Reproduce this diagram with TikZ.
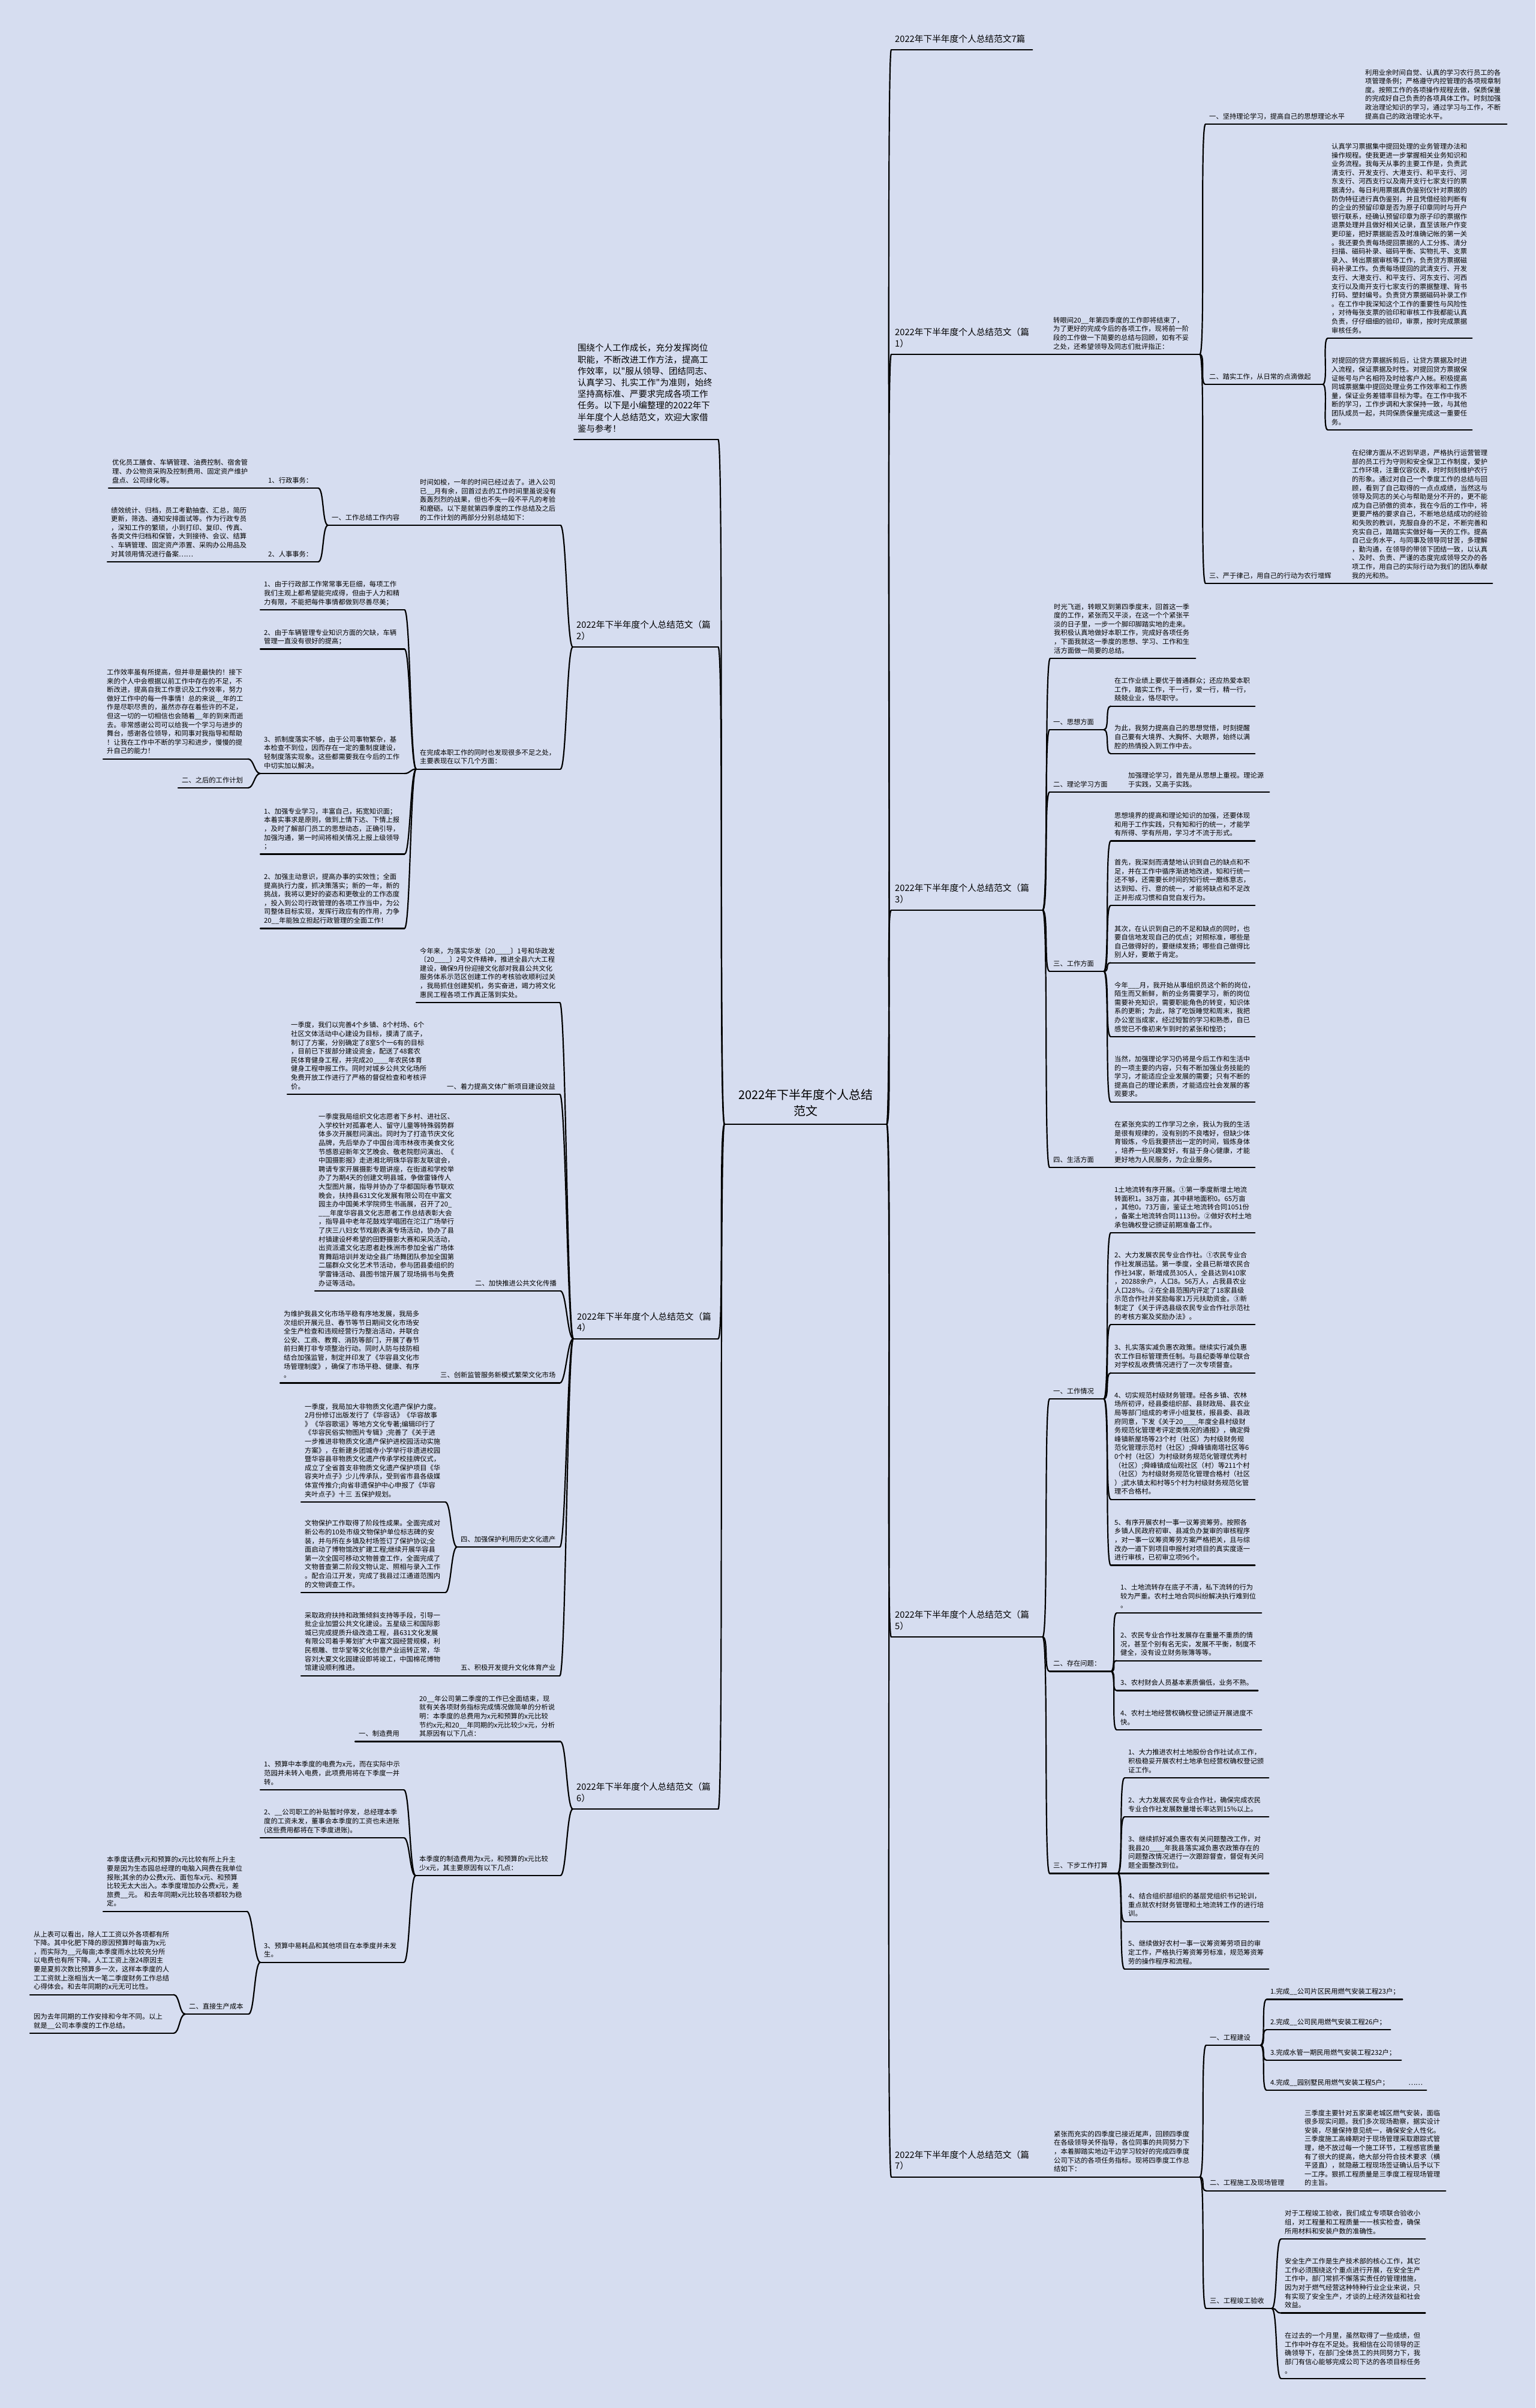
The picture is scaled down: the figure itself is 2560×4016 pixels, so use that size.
\documentclass[tikz,border=0pt]{standalone}
\usepackage{fontspec}
\newfontfamily\cjk{Noto Sans CJK SC}
\definecolor{bgc}{HTML}{D6DDF0}
\tikzset{
  bt/.style={anchor=south west, inner xsep=6pt, inner ysep=4.3pt, align=left,
    font=\cjk\fontsize{11.3}{14.6}\selectfont, execute at end node=\strut},
  lt/.style={bt, font=\cjk\fontsize{14.7}{18.5}\selectfont, inner ysep=7pt},
  mt/.style={bt, font=\cjk\fontsize{14.5}{19.2}\selectfont, inner ysep=6.7pt},
  rt/.style={bt, align=center, font=\cjk\fontsize{20}{26.6}\selectfont, inner ysep=6.4pt},
  ul/.style={line width=2.2pt, line cap=round},
  cn/.style={line width=2.2pt, line cap=round}
}
\begin{document}
\begin{tikzpicture}[x=1pt,y=-1pt]
\fill[bgc] (0,0) rectangle (2560,4016);
\useasboundingbox (0,0) rectangle (2560,4016);

% ---------- root ----------
\node[rt, text width=258pt] (root) at (1208,1875) {2022年下半年度个人总结\\范文};

% ---------- right side ----------
\node[lt, text width=223pt] (title) at (1486,83) {2022年下半年度个人总结范文7篇};

% 篇1
\node[lt, text width=240pt] (p1) at (1486,591) {2022年下半年度个人总结范文（篇\\1）};
\node[bt, text width=238pt] (i1) at (1750,591) {转眼间20\_\_年第四季度的工作即将结束了，\\为了更好的完成今后的各项工作，现将前一阶\\段的工作做一下简要的总结与回顾，如有不妥\\之处，还希望领导及同志们批评指正：};
\node[bt, text width=228pt] (s11) at (2010,207) {一、坚持理论学习，提高自己的思想理论水平};
\node[bt, text width=230pt] (t11) at (2270,207) {利用业余时间自觉、认真的学习农行员工的各\\项管理条例；严格遵守内控管理的各项规章制\\度。按照工作的各项操作规程去做，保质保量\\的完成好自己负责的各项具体工作。时刻加强\\政治理论知识的学习，通过学习与工作，不断\\提高自己的政治理论水平。};
\node[bt, text width=183pt] (s12) at (2010,641) {二、踏实工作，从日常的点滴做起};
\node[bt, text width=228pt] (t12a) at (2214,564) {认真学习票据集中提回处理的业务管理办法和\\操作规程。使我更进一步掌握相关业务知识和\\业务流程。我每天从事的主要工作是，负责武\\清支行、开发支行、大港支行、和平支行、河\\东支行、河西支行以及南开支行七家支行的票\\据清分。每日利用票据真伪鉴别仪针对票据的\\防伪特征进行真伪鉴别，并且凭借经验判断有\\的企业的预留印章是否为原子印章同时与开户\\银行联系，经确认预留印章为原子印的票据作\\退票处理并且做好相关记录，直至该账户作变\\更印鉴，把好票据能否及时准确记帐的第一关\\。我还要负责每场提回票据的人工分拣、清分\\扫描、磁码补录、磁码平衡、实物扎平、支票\\录入、转出票据审核等工作，负责贷方票据磁\\码补录工作。负责每场提回的武清支行、开发\\支行、大港支行、和平支行、河东支行、河西\\支行以及南开支行七家支行的票据整理、背书\\打码、塑封编号。负责贷方票据磁码补录工作\\。在工作中我深知这个工作的重要性与风险性\\，对待每张支票的验印和审核工作我都能认真\\负责，仔仔细细的验印，审票，按时完成票据\\审核任务。};
\node[bt, text width=228pt] (t12b) at (2214,717) {对提回的贷方票据拆剪后，让贷方票据及时进\\入流程，保证票据及时性。对提回贷方票据保\\证帐号与户名相符及时给客户入帐。积极提高\\同城票据集中提回处理业务工作效率和工作质\\量，保证业务差错率目标为零。在工作中我不\\断的学习，工作步调和大家保持一致，与其他\\团队成员一起，共同保质保量完成这一重要任\\务。};
\node[bt, text width=218pt] (s13) at (2010,973) {三、严于律己，用自己的行动为农行增辉};
\node[bt, text width=228pt] (t13) at (2248,973) {在纪律方面从不迟到早退，严格执行运营管理\\部的员工行为守则和安全保卫工作制度，爱护\\工作环境，注重仪容仪表，时时刻刻维护农行\\的形象。通过对自己一个季度工作的总结与回\\顾，看到了自己取得的一点点成绩，当然这与\\领导及同志的关心与帮助是分不开的，更不能\\成为自己骄傲的资本，我在今后的工作中，将\\更要严格的要求自己，不断地总结成功的经验\\和失败的教训，克服自身的不足，不断完善和\\充实自己，踏踏实实做好每一天的工作。提高\\自己业务水平，与同事及领导同甘苦，多理解\\，勤沟通，在领导的带领下团结一致，以认真\\、及时、负责、严谨的态度完成领导交办的各\\项工作，用自己的实际行动为我们的团队奉献\\我的光和热。};

% 篇3
\node[lt, text width=240pt] (p3) at (1486,1518) {2022年下半年度个人总结范文（篇\\3）};
\node[bt, text width=230pt] (i3) at (1751,1098) {时光飞逝，转眼又到第四季度末，回首这一季\\度的工作，紧张而又平淡，在这一个个紧张平\\淡的日子里，一步一个脚印脚踏实地的走来。\\我积极认真地做好本职工作，完成好各项任务\\，下面我就这一季度的思想、学习、工作和生\\活方面做一简要的总结。};
\node[bt, text width=78pt] (s31) at (1750,1217) {一、思想方面};
\node[bt, text width=228pt] (t31a) at (1852,1177.6) {在工作业绩上要优于普通群众；还应热爱本职\\工作，踏实工作，干一行，爱一行，精一行，\\兢兢业业，恪尽职守。};
\node[bt, text width=228pt] (t31b) at (1852,1257) {为此，我努力提高自己的思想觉悟，时刻提醒\\自己要有大境界、大胸怀、大眼界，始终以满\\腔的热情投入到工作中去。};
\node[bt, text width=107pt] (s32) at (1750,1321) {二、理论学习方面};
\node[bt, text width=229pt] (t32) at (1875,1321) {加强理论学习，首先是从思想上重视。理论源\\于实践，又高于实践。};
\node[bt, text width=78pt] (s33) at (1750,1620) {三、工作方面};
\node[bt, text width=228pt] (t33a) at (1852,1402.5) {思想境界的提高和理论知识的加强，还要体现\\和用于工作实践，只有知和行的统一，才能学\\有所得、学有所用，学习才不流于形式。};
\node[bt, text width=228pt] (t33b) at (1852,1510) {首先，我深刻而清楚地认识到自己的缺点和不\\足，并在工作中循序渐进地改进，知和行统一\\还不够，还需要长时间的知行统一磨练意志，\\达到知、行、意的统一，才能将缺点和不足改\\正并形成习惯和自觉自发行为。};
\node[bt, text width=228pt] (t33c) at (1852,1605.7) {其次，在认识到自己的不足和缺点的同时，也\\要自信地发现自己的优点；对照标准，哪些是\\自己做得好的，要继续发扬；哪些自己做得比\\别人好，要敢于肯定。};
\node[bt, text width=228pt] (t33d) at (1852,1729) {今年\_\_\_月，我开始从事组织员这个新的岗位，\\陌生而又新鲜，新的业务需要学习，新的岗位\\需要补充知识，需要职能角色的转变，知识体\\系的更新；为此，除了吃饭睡觉和周末，我把\\办公室当成家，经过短暂的学习和熟悉，自已\\感觉已不像初来乍到时的紧张和惶恐；};
\node[bt, text width=228pt] (t33e) at (1852,1837.7) {当然，加强理论学习仍将是今后工作和生活中\\的一项主要的内容，只有不断加强业务技能的\\学习，才能适应企业发展的需要；只有不断的\\提高自己的理论素质，才能适应社会发展的客\\观要求。};
\node[bt, text width=78pt] (s34) at (1750,1947) {四、生活方面};
\node[bt, text width=228pt] (t34) at (1852,1947) {在紧张充实的工作学习之余，我认为我的生活\\是很有规律的，没有别的不良嗜好，但缺少体\\育锻炼，今后我要挤出一定的时间，锻炼身体\\，培养一些兴趣爱好，有益于身心健康，才能\\更好地为人民服务，为企业服务。};

% 篇5
\node[lt, text width=240pt] (p5) at (1486,2730) {2022年下半年度个人总结范文（篇\\5）};
\node[bt, text width=78pt] (s51) at (1750,2333) {一、工作情况};
\node[bt, text width=228pt] (t51a) at (1852,2056) {1土地流转有序开展。①第一季度新增土地流\\转面积1。38万亩，其中耕地面积0。65万亩\\，其他0。73万亩，鉴证土地流转合同1051份\\，备案土地流转合同1113份。②做好农村土地\\承包确权登记颁证前期准备工作。};
\node[bt, text width=228pt] (t51b) at (1852,2209) {2、大力发展农民专业合作社。①农民专业合\\作社发展迅猛。第一季度，全县已新增农民合\\作社34家，新增成员305人，全县达到410家\\，20288余户，人口8。56万人，占我县农业\\人口28\%。②在全县范围内评定了18家县级\\示范合作社并奖励每家1万元扶助资金。③新\\制定了《关于评选县级农民专业合作社示范社\\的考核方案及奖励办法》。};
\node[bt, text width=228pt] (t51c) at (1852,2289.6) {3、扎实落实减负惠农政策。继续实行减负惠\\农工作目标管理责任制。与县纪委等单位联合\\对学校乱收费情况进行了一次专项督查。};
\node[bt, text width=228pt] (t51d) at (1852,2500.8) {4、切实规范村级财务管理。经各乡镇、农林\\场所初评，经县委组织部、县财政局、县农业\\局等部门组成的考评小组复核，报县委、县政\\府同意，下发《关于20\_\_\_\_年度全县村级财\\务规范化管理考评定类情况的通报》，确定舜\\峰镇新屋场等23个村（社区）为村级财务规\\范化管理示范村（社区）;舜峰镇南塔社区等6\\0个村（社区）为村级财务规范化管理优秀村\\（社区）;舜峰镇成仙观社区（村）等211个村\\（社区）为村级财务规范化管理合格村（社区\\）;武水镇太和村等5个村为村级财务规范化管\\理不合格村。};
\node[bt, text width=228pt] (t51e) at (1852,2610.5) {5、有序开展农村一事一议筹资筹劳。按照各\\乡镇人民政府初审、县减负办复审的审核程序\\，对一事一议筹资筹劳方案严格把关，且与综\\改办一道下到项目申报村对项目的真实度逐一\\进行审核，已初审立项96个。};
\node[bt, text width=90pt] (s52) at (1750,2787.4) {二、存在问题：};
\node[bt, text width=229pt] (t52a) at (1862,2690) {1、土地流转存在底子不清，私下流转的行为\\较为严重。农村土地合同纠纷解决执行难到位\\。};
\node[bt, text width=229pt] (t52b) at (1862,2769.6) {2、农民专业合作社发展存在重量不重质的情\\况，甚至个别有名无实，发展不平衡，制度不\\健全，没有设立财务账簿等等。};
\node[bt, text width=223pt] (t52c) at (1862,2819.5) {3、农村财会人员基本素质偏低，业务不熟。};
\node[bt, text width=229pt] (t52d) at (1862,2885) {4、农村土地经营权确权登记颁证开展进度不\\快。};
\node[bt, text width=101pt] (s53) at (1750,3124.4) {三、下步工作打算};
\node[bt, text width=228pt] (t53a) at (1875,2965) {1、大力推进农村土地股份合作社试点工作，\\积极稳妥开展农村土地承包经营权确权登记颁\\证工作。};
\node[bt, text width=228pt] (t53b) at (1875,3030) {2、大力发展农民专业合作社，确保完成农民\\专业合作社发展数量增长率达到15\%以上。};
\node[bt, text width=228pt] (t53c) at (1875,3124.4) {3、继续抓好减负惠农有关问题整改工作，对\\我县20\_\_\_\_年我县落实减负惠农政策存在的\\问题整改情况进行一次跟踪督查，督促有关问\\题全面整改到位。};
\node[bt, text width=228pt] (t53d) at (1875,3204.6) {4、结合组织部组织的基层党组织书记轮训，\\重点就农村财务管理和土地流转工作的进行培\\训。};
\node[bt, text width=228pt] (t53e) at (1875,3284) {5、继续做好农村一事一议筹资筹劳项目的审\\定工作，严格执行筹资筹劳标准，规范筹资筹\\劳的操作程序和流程。};

% 篇7
\node[lt, text width=240pt] (p7) at (1486,3630.6) {2022年下半年度个人总结范文（篇\\7）};
\node[bt, text width=237pt] (i7) at (1751,3630.6) {紧张而充实的四季度已接近尾声，回顾四季度\\在各级领导关怀指导，各位同事的共同努力下\\，本着脚踏实地边干边学习较好的完成四季度\\公司下达的各项任务指标。现将四季度工作总\\结如下：};
\node[bt, text width=78pt] (s71) at (2011,3411) {一、工程建设};
\node[bt, text width=214pt] (t71a) at (2112,3334.4) {1.完成\_\_公司片区民用燃气安装工程23户；};
\node[bt, text width=194pt] (t71b) at (2112,3385) {2.完成\_\_公司民用燃气安装工程26户；};
\node[bt, text width=212pt] (t71c) at (2112,3436) {3.完成水管一期民用燃气安装工程232户；};
\node[bt, text width=254pt] (t71d) at (2112,3486) {4.完成\_\_园别墅民用燃气安装工程5户；\hfill……};
\node[bt, text width=129pt] (s72) at (2011,3653.7) {二、工程施工及现场管理};
\node[bt, text width=229pt] (t72) at (2169,3653.7) {三季度主要针对五家渠老城区燃气安装，面临\\很多现实问题。我们多次现场勘察，据实设计\\安装，尽量保持意见统一，确保安全人性化。\\三季度施工高峰期对于现场管理采取跟踪式管\\理，绝不放过每一个施工环节，工程感官质量\\有了很大的提高，绝大部分符合技术要求（横\\平竖直），就隐蔽工程现场签证确认后予以下\\一工序。狠抓工程质量是三季度工程现场管理\\的主旨。};
\node[bt, text width=97pt] (s73) at (2011,3850) {三、工程竣工验收};
\node[bt, text width=228pt] (t73a) at (2136,3734) {对于工程竣工验收，我们成立专项联合验收小\\组，对工程量和工程质量一一核实检查，确保\\所用材料和安装户数的准确性。};
\node[bt, text width=228pt] (t73b) at (2136,3857.5) {安全生产工作是生产技术部的核心工作，其它\\工作必须围绕这个重点进行开展，在安全生产\\工作中，部门常抓不懈落实责任的管理措施，\\因为对于燃气经营这种特种行业企业来说，只\\有实现了安全生产，才谈的上经济效益和社会\\效益。};
\node[bt, text width=228pt] (t73c) at (2136,3967) {在过去的一个月里，虽然取得了一些成绩，但\\工作中叶存在不足处。我相信在公司领导的正\\确领导下，在部门全体员工的共同努力下，我\\部门有信心能够完成公司下达的各项目标任务\\。};

% ---------- left side ----------
\node[mt, text width=228pt] (iL) at (957,733) {围绕个人工作成长，充分发挥岗位\\职能，不断改进工作方法，提高工\\作效率，以"服从领导、团结同志、\\认真学习、扎实工作"为准则，始终\\坚持高标准、严要求完成各项工作\\任务。以下是小编整理的2022年下\\半年度个人总结范文，欢迎大家借\\鉴与参考！};

% 篇2
\node[lt, text width=230pt] (p2) at (955,1079) {2022年下半年度个人总结范文（篇\\2）};
\node[bt, text width=228pt] (i2) at (694,876) {时间如梭，一年的时间已经过去了。进入公司\\已\_\_月有余，回首过去的工作时间里虽说没有\\轰轰烈烈的战果，但也不失一段不平凡的考验\\和磨砺。以下是就第四季度的工作总结及之后\\的工作计划的两部分分别总结如下：};
\node[bt, text width=123pt] (s21) at (547,876) {一、工作总结工作内容};
\node[bt, text width=77pt] (s21a) at (441,814) {1、行政事务：};
\node[bt, text width=237pt] (a21) at (181,814) {优化员工膳食、车辆管理、油费控制、宿舍管\\理、办公物资采购及控制费用、固定资产维护\\盘点、公司绿化等。};
\node[bt, text width=77pt] (s21b) at (441,937) {2、人事事务：};
\node[bt, text width=239pt] (b21) at (179,937) {绩效统计、归档，员工考勤抽查、汇总，简历\\更新，筛选、通知安排面试等。作为行政专员\\，深知工作的繁琐，小到打印、复印、传真、\\各类文件归档和保管，大到接待、会议、结算\\、车辆管理、固定资产添置、采购办公用品及\\对其领用情况进行备案……};
\node[bt, text width=228pt] (j2) at (694,1282.6) {在完成本职工作的同时也发现很多不足之处，\\主要表现在以下几个方面：};
\node[bt, text width=228pt] (pp1) at (434,1017) {1、由于行政部工作常常事无巨细，每项工作\\我们主观上都希望能完成得，但由于人力和精\\力有限，不能把每件事情都做到尽善尽美；};
\node[bt, text width=228pt] (pp2) at (434,1082.5) {2、由于车辆管理专业知识方面的欠缺，车辆\\管理一直没有很好的提高；};
\node[bt, text width=228pt] (pp3) at (434,1290) {3、抓制度落实不够，由于公司事物繁杂，基\\本检查不到位，因而存在一定的重制度建设，\\轻制度落实现象。这些都需要我在今后的工作\\中切实加以解决。};
\node[bt, text width=229pt] (w2) at (172,1265.7) {工作效率虽有所提高，但并非是最快的！接下\\来的个人中会根据以前工作中存在的不足，不\\断改进，提高自我工作意识及工作效率，努力\\做好工作中的每一件事情！总的来说\_\_年的工\\作是尽职尽责的，虽然亦存在着些许的不足，\\但这一切的一切相信也会随着\_\_年的到来而逝\\去。非常感谢公司可以给我一个学习与进步的\\舞台，感谢各位领导，和同事对我指导和帮助\\！让我在工作中不断的学习和进步，慢慢的提\\升自己的能力！};
\node[bt, text width=104pt] (s22) at (297,1314) {二、之后的工作计划};
\node[bt, text width=228pt] (qq1) at (434,1424.5) {1、加强专业学习，丰富自己，拓宽知识面；\\本着实事求是原则，做到上情下达、下情上报\\，及时了解部门员工的思想动态，正确引导，\\加强沟通，第一时间将相关情况上报上级领导\\；};
\node[bt, text width=228pt] (qq2) at (434,1548.4) {2、加强主动意识，提高办事的实效性；全面\\提高执行力度，抓决策落实；新的一年，新的\\挑战，我将以更好的姿态和更敬业的工作态度\\，投入到公司行政管理的各项工作当中，为公\\司整体目标实现，发挥行政应有的作用，力争\\20\_\_年能独立担起行政管理的全面工作！};

% 篇4
\node[lt, text width=229pt] (p4) at (956,2232.6) {2022年下半年度个人总结范文（篇\\4）};
\node[bt, text width=227pt] (i4) at (694,1672) {今年来，为落实华发〔20\_\_\_\_〕1号和华政发\\〔20\_\_\_\_〕2号文件精神，推进全县六大工程\\建设，确保9月份迎接文化部对我县公共文化\\服务体系示范区创建工作的考核验收顺利过关\\，我局抓住创建契机，务实奋进，竭力将文化\\惠民工程各项工作真正落到实处。};
\node[bt, text width=182pt] (s41) at (739,1825) {一、着力提高文体广新项目建设效益};
\node[bt, text width=244pt] (t41) at (479,1825) {一季度，我们以完善4个乡镇、8个村场、6个\\社区文体活动中心建设为目标，摸清了底子，\\制订了方案，分别确定了8室5个一6有的目标\\，目前已下拔部分建设资金，配送了48套农\\民体育健身工程，并完成20\_\_\_\_年农民体育\\健身工程申报工作。同时对城乡公共文化场所\\免费开放工作进行了严格的督促检查和考核评\\价。};
\node[bt, text width=136pt] (s42) at (786,2153) {二、加快推进公共文化传播};
\node[bt, text width=247pt] (t42) at (525,2153) {一季度我局组织文化志愿者下乡村、进社区、\\入学校针对孤寡老人、留守儿童等特殊弱势群\\体多次开展慰问演出。同时为了打造节庆文化\\品牌，先后举办了中国台湾市林夜市美食文化\\节感恩迎新年文艺晚会、敬老院慰问演出、《\\中国摄影报》走进湘北明珠华容影友联谊会，\\聘请专家开展摄影专题讲座，在街道和学校举\\办了为期4天的创建文明县城，争做雷锋传人\\大型图片展，指导并协办了华都国际春节联欢\\晚会，扶持县631文化发展有限公司在中富文\\园主办中国美术学院师生书画展，召开了20\_\\\_\_\_年度华容县文化志愿者工作总结表彰大会\\，指导县中老年花鼓戏学唱团在沱江广场举行\\了庆三八妇女节戏剧表演专场活动，协办了县\\村镇建设杯希望的田野摄影大赛和采风活动，\\出资派遣文化志愿者赴株洲市参加全省广场体\\育舞蹈培训并发动全县广场舞团队参加全国第\\二届群众文化艺术节活动，参与团县委组织的\\学雷锋活动、县图书馆开展了现场捐书与免费\\办证等活动。};
\node[bt, text width=193pt] (s43) at (728,2306.5) {三、创新监管服务新模式繁荣文化市场};
\node[bt, text width=247pt] (t43) at (467,2306.5) {为维护我县文化市场平稳有序地发展，我局多\\次组织开展元旦、春节等节日期间文化市场安\\全生产检查和违规经营行为整治活动，并联合\\公安、工商、教育、消防等部门，开展了春节\\前扫黄打非专项整治行动。同时人防与技防相\\结合加强监管，制定并印发了《华容县文化市\\场管理制度》，确保了市场平稳、健康、有序\\。};
\node[bt, text width=159pt] (s44) at (762,2580) {四、加强保护利用历史文化遗产};
\node[bt, text width=228pt] (t44a) at (502,2505) {一季度，我局加大非物质文化遗产保护力度。\\2月份修订出版发行了《华容话》《华容故事\\》《华容歌谣》等地方文化专著;编辑印行了\\《华容民俗实物图片专辑》;完善了《关于进\\一步推进非物质文化遗产保护进校园活动实施\\方案》，在新建乡团城寺小学举行非遗进校园\\暨华容县非物质文化遗产传承学校挂牌仪式，\\成立了全省首支非物质文化遗产保护项目《华\\容夹叶点子》少儿传承队，受到省市县各级媒\\体宣传推介;向省非遗保护中心申报了《华容\\夹叶点子》十三~五保护规划。};
\node[bt, text width=228pt] (t44b) at (502,2656) {文物保护工作取得了阶段性成果。全面完成对\\新公布的10处市级文物保护单位标志碑的安\\装，并与所在乡镇及村场签订了保护协议;全\\面启动了博物馆改扩建工程;继续开展华容县\\第一次全国可移动文物普查工作，全面完成了\\文物普查第二阶段文物认定、照相与录入工作\\。配合沿江开发，完成了我县过江通道范围内\\的文物调查工作。};
\node[bt, text width=159pt] (s45) at (762,2794.6) {五、积极开发提升文化体育产业};
\node[bt, text width=246pt] (t45) at (502,2794.6) {采取政府扶持和政策倾斜支持等手段，引导一\\批企业加盟公共文化建设。五星级三和国际影\\城已完成提质升级改造工程，县631文化发展\\有限公司着手筹划扩大中富文园经营规模，利\\民根雕、世华堂等文化创意产业运转正常，华\\容刘大夏文化园建设即将竣工，中国棉花博物\\馆建设顺利推进。};

% 篇6
\node[lt, text width=230pt] (p6) at (955,3017) {2022年下半年度个人总结范文（篇\\6）};
\node[bt, text width=229pt] (i6) at (693,2904.5) {20\_\_年公司第二季度的工作已全面结束，现\\就有关各项财务指标完成情况做简单的分析说\\明：本季度的总费用为x元和预算的x元比较\\节约x元;和20\_\_年同期的x元比较少x元，分析\\其原因有以下几点：};
\node[bt, text width=78pt] (s61) at (592,2904.5) {一、制造费用};
\node[bt, text width=229pt] (j6) at (693,3128) {本季度的制造费用为x元，和预算的x元比较\\少x元，其主要原因有以下几点：};
\node[bt, text width=227pt] (r1) at (434,2985) {1、预算中本季度的电费为x元，而在实际中示\\范园并未转入电费，此项费用将在下季度一并\\转。};
\node[bt, text width=227pt] (r2) at (434,3065) {2、\_\_公司职工的补贴暂时停发，总经理本季\\度的工资未发，董事会本季度的工资也未进账\\(这些费用都将在下季度进账)。};
\node[bt, text width=227pt] (r3) at (434,3272.7) {3、预算中易耗品和其他项目在本季度并未发\\生。};
\node[bt, text width=227pt] (q61) at (172,3187.7) {本季度话费x元和预算的x元比较有所上升主\\要是因为生态园总经理的电脑入网费在我单位\\报账;其余的办公费x元、面包车x元、和预算\\比较无太大出入。本季度增加办公费x元，差\\旅费\_\_元。~和去年同期x元比较各项都较为稳\\定。};
\node[bt, text width=93pt] (s62) at (309,3359) {二、直接生产成本};
\node[bt, text width=227pt] (t61) at (50,3326.6) {从上表可以看出，除人工工资以外各项都有所\\下降。其中化肥下降的原因预算时每亩为x元\\，而实际为\_\_元每亩;本季度雨水比较充分所\\以电费也有所下降。人工工资上涨24原因主\\要是夏剪次数比预算多一次，这样本季度的人\\工工资就上涨相当大一笔二季度财务工作总结\\心得体会。和去年同期的x元无可比性。};
\node[bt, text width=227pt] (t62) at (50,3391) {因为去年同期的工作安排和今年不同。以上\\就是\_\_公司本季度的工作总结。};

% ---------- underlines ----------
\foreach \n in {root,title,p1,i1,s11,t11,s12,t12a,t12b,s13,t13,
  p3,i3,s31,t31a,t31b,s32,t32,s33,t33a,t33b,t33c,t33d,t33e,s34,t34,
  p5,s51,t51a,t51b,t51c,t51d,t51e,s52,t52a,t52b,t52c,t52d,s53,t53a,t53b,t53c,t53d,t53e,
  p7,i7,s71,t71a,t71b,t71c,t71d,s72,t72,s73,t73a,t73b,t73c,
  iL,p2,i2,s21,s21a,a21,s21b,b21,j2,pp1,pp2,pp3,w2,s22,qq1,qq2,
  p4,i4,s41,t41,s42,t42,s43,t43,s44,t44a,t44b,s45,t45,
  p6,i6,s61,j6,r1,r2,r3,q61,s62,t61,t62}
  \draw[ul] (\n.south west) -- (\n.south east);

% ---------- connectors (right side) ----------
\foreach \a/\b in {root/title,root/p1,root/p3,root/p5,root/p7,
  p1/i1,i1/s11,i1/s12,i1/s13,s11/t11,s12/t12a,s12/t12b,s13/t13,
  p3/i3,p3/s31,p3/s32,p3/s33,p3/s34,s31/t31a,s31/t31b,s32/t32,
  s33/t33a,s33/t33b,s33/t33c,s33/t33d,s33/t33e,s34/t34,
  p5/s51,p5/s52,p5/s53,s51/t51a,s51/t51b,s51/t51c,s51/t51d,s51/t51e,
  s52/t52a,s52/t52b,s52/t52c,s52/t52d,s53/t53a,s53/t53b,s53/t53c,s53/t53d,s53/t53e,
  p7/i7,i7/s71,i7/s72,i7/s73,s71/t71a,s71/t71b,s71/t71c,s71/t71d,s72/t72,
  s73/t73a,s73/t73b,s73/t73c}
  \draw[cn] (\a.south east) .. controls +(10,0) and +(-10,0) .. (\b.south west);

% ---------- connectors (left side) ----------
\foreach \a/\b in {root/iL,root/p2,root/p4,root/p6,
  p2/i2,p2/j2,i2/s21,s21/s21a,s21/s21b,s21a/a21,s21b/b21,
  j2/pp1,j2/pp2,j2/pp3,j2/qq1,j2/qq2,pp3/w2,pp3/s22,
  p4/i4,p4/s41,p4/s42,p4/s43,p4/s44,p4/s45,s41/t41,s42/t42,s43/t43,s44/t44a,s44/t44b,s45/t45,
  p6/i6,p6/j6,i6/s61,j6/r1,j6/r2,j6/r3,r3/q61,r3/s62,s62/t61,s62/t62}
  \draw[cn] (\a.south west) .. controls +(-10,0) and +(10,0) .. (\b.south east);
\end{tikzpicture}
\end{document}
